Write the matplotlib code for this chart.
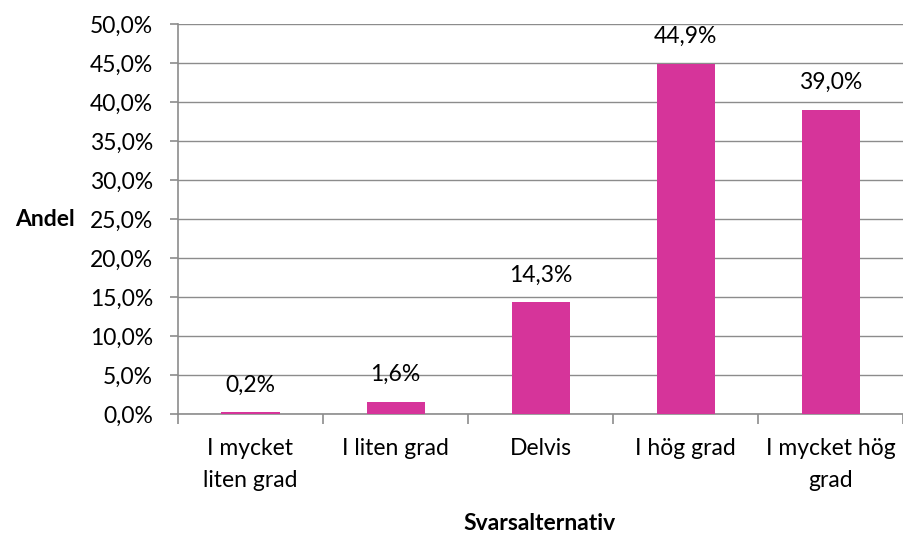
import numpy as np
import matplotlib
matplotlib.use("Agg")
import matplotlib.pyplot as plt
from matplotlib.ticker import FixedLocator, FuncFormatter

categories = ["I mycket\nliten grad", "I liten grad", "Delvis", "I hög grad", "I mycket hög\ngrad"]
values = [0.2, 1.6, 14.3, 44.9, 39.0]
y_ticks = [0, 5, 10, 15, 20, 25, 30, 35, 40, 45, 50]

FS = 16.5
plt.rcParams.update({
    "font.family": ["Lato", "DejaVu Sans"],
    "font.size": FS,
})

BAR_COLOR = "#D6349A"
LINE_COLOR = "#8c8c8c"

fig = plt.figure(figsize=(9.04, 5.34), dpi=100)
ax = fig.add_axes([178 / 904, 120 / 534, 725 / 904, 390 / 534])

x = np.arange(len(categories))
ax.bar(x, values, width=0.40, color=BAR_COLOR, zorder=3)

for xi, v in zip(x, values):
    ax.annotate(f"{v:.1f}%".replace(".", ","), (xi, v), xytext=(0, 12),
                textcoords="offset points", ha="center", va="bottom",
                fontsize=FS, color="black")

ax.set_xlim(-0.5, len(categories) - 0.5)
ax.set_ylim(0, 50)
ax.set_yticks(y_ticks)
ax.yaxis.set_major_formatter(FuncFormatter(lambda v, p: f"{v:.1f}%".replace(".", ",")))
ax.grid(axis="y", color=LINE_COLOR, lw=1.0, zorder=0)

# category labels between boundary ticks
ax.set_xticks(x)
ax.set_xticklabels(categories, linespacing=1.65)
ax.tick_params(axis="x", length=0, pad=17)
ax.xaxis.set_minor_locator(FixedLocator(np.arange(-0.5, len(categories), 1.0)))
ax.tick_params(axis="x", which="minor", length=7, width=1.2, color=LINE_COLOR)
ax.tick_params(axis="y", length=6, width=1.2, color=LINE_COLOR, pad=12)

for side in ["top", "right"]:
    ax.spines[side].set_visible(False)
for side in ["left", "bottom"]:
    ax.spines[side].set_color(LINE_COLOR)
    ax.spines[side].set_linewidth(1.2)

ax.set_xlabel("Svarsalternativ", fontweight="bold", fontsize=FS, va="center")
ax.xaxis.set_label_coords(0.499, -0.28)
ax.set_ylabel("Andel", fontweight="bold", fontsize=FS, rotation=0, ha="right", va="center")
ax.yaxis.set_label_coords(-0.142, 0.5)

fig.savefig("out.png", dpi=100)
